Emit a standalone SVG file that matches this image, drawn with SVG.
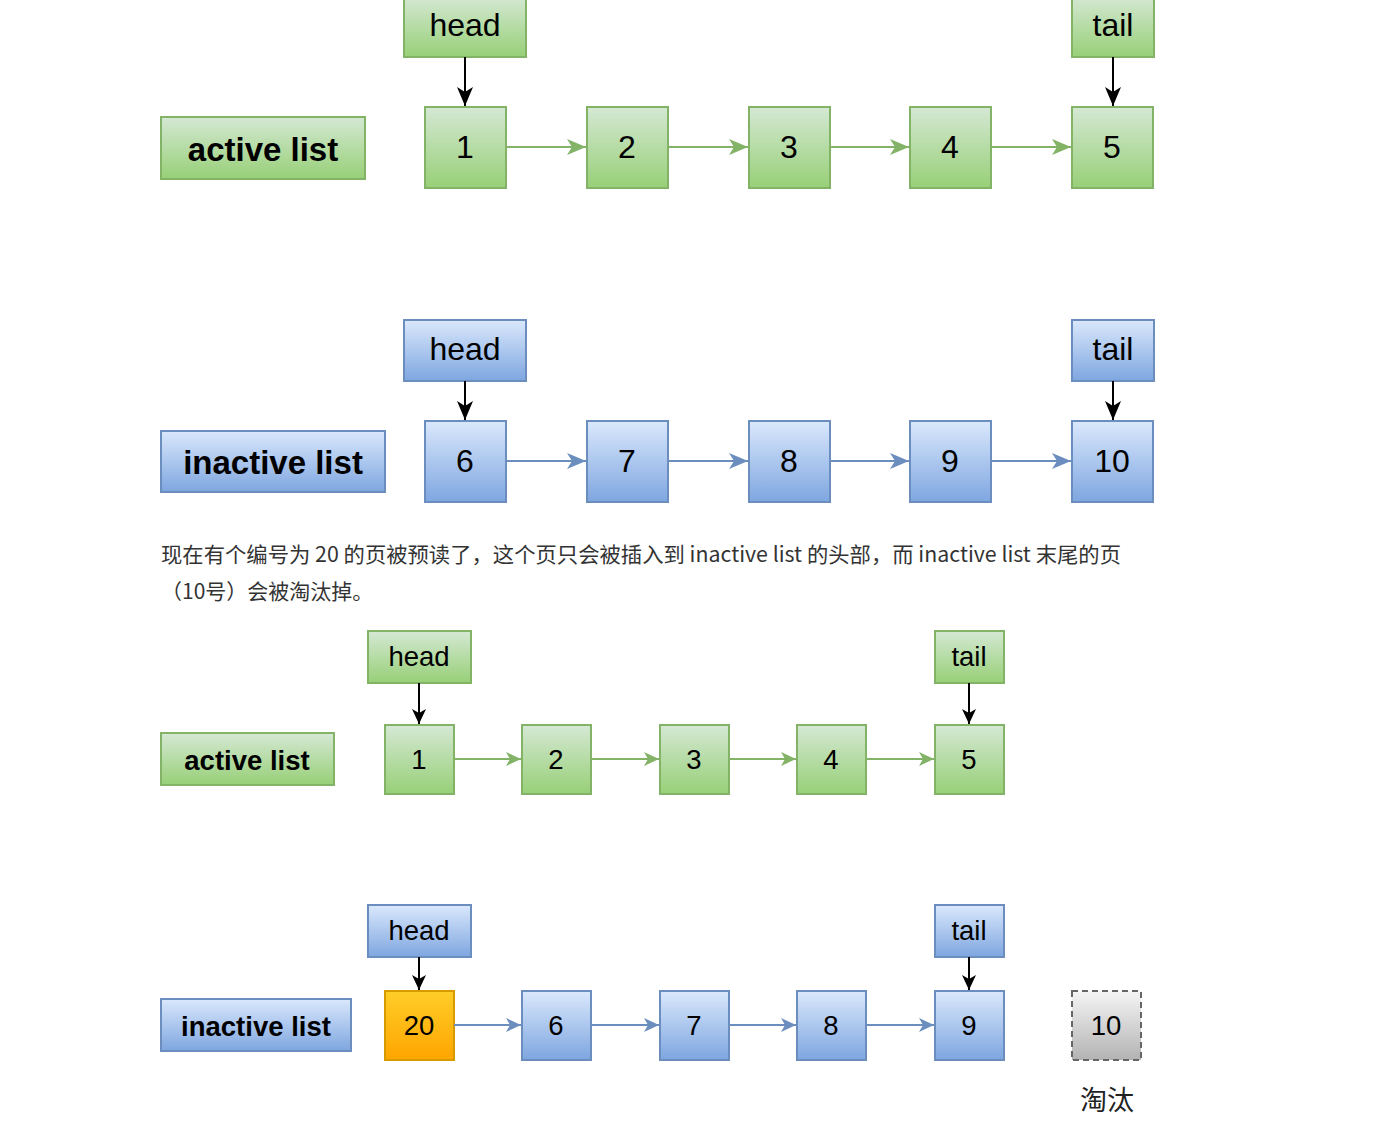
<svg xmlns="http://www.w3.org/2000/svg" width="1379" height="1137" viewBox="0 0 1379 1137">
<defs>
<linearGradient id="gG" x1="0" y1="0" x2="0" y2="1"><stop offset="0" stop-color="#d5e8d4"/><stop offset="1" stop-color="#97d077"/></linearGradient>
<linearGradient id="gB" x1="0" y1="0" x2="0" y2="1"><stop offset="0" stop-color="#dae8fc"/><stop offset="1" stop-color="#7ea6e0"/></linearGradient>
<linearGradient id="gO" x1="0" y1="0" x2="0" y2="1"><stop offset="0" stop-color="#ffcd28"/><stop offset="1" stop-color="#ffa500"/></linearGradient>
<linearGradient id="gS" x1="0" y1="0" x2="0" y2="1"><stop offset="0" stop-color="#f5f5f5"/><stop offset="1" stop-color="#b3b3b3"/></linearGradient>
<marker id="mK" markerUnits="userSpaceOnUse" markerWidth="22" markerHeight="20" refX="19" refY="8" orient="auto"><path d="M0,0 L19,8 L0,16 L5,8 z" fill="#000"/></marker>
<marker id="mG" markerUnits="userSpaceOnUse" markerWidth="22" markerHeight="20" refX="19" refY="8" orient="auto"><path d="M0,0 L19,8 L0,16 L5,8 z" fill="#82b366"/></marker>
<marker id="mB" markerUnits="userSpaceOnUse" markerWidth="22" markerHeight="20" refX="19" refY="8" orient="auto"><path d="M0,0 L19,8 L0,16 L5,8 z" fill="#6c8ebf"/></marker>
<marker id="mKs" markerUnits="userSpaceOnUse" markerWidth="18" markerHeight="16" refX="15" refY="7" orient="auto"><path d="M0,0 L15,7 L0,14 L4,7 z" fill="#000"/></marker>
<marker id="mGs" markerUnits="userSpaceOnUse" markerWidth="18" markerHeight="16" refX="15" refY="7" orient="auto"><path d="M0,0 L15,7 L0,14 L4,7 z" fill="#82b366"/></marker>
<marker id="mBs" markerUnits="userSpaceOnUse" markerWidth="18" markerHeight="16" refX="15" refY="7" orient="auto"><path d="M0,0 L15,7 L0,14 L4,7 z" fill="#6c8ebf"/></marker>
</defs>
<style>
.g{fill:url(#gG);stroke:#82b366;stroke-width:2}
.b{fill:url(#gB);stroke:#6c8ebf;stroke-width:2}
.o{fill:url(#gO);stroke:#d79b00;stroke-width:2}
.s{fill:url(#gS);stroke:#666;stroke-width:2;stroke-dasharray:6 4}
.t{font-family:"Liberation Sans",Arial,sans-serif;fill:#000;text-anchor:middle;dominant-baseline:central}
.L{font-size:32px}
.S{font-size:27.5px}
.bd{font-weight:bold}
.LB{font-size:33px}
.k{stroke:#000;stroke-width:2;fill:none}
.cg{stroke:#82b366;stroke-width:2;fill:none}
.cb{stroke:#6c8ebf;stroke-width:2;fill:none}
.p{font-family:"Noto Sans CJK SC","Noto Sans",sans-serif;font-size:21px;fill:#333}
</style>
<rect width="1379" height="1137" fill="#fff"/>

<!-- Diagram 1 -->
<g id="d1-head"><rect class="g" x="404" y="-4" width="122" height="61"/><text class="t L" x="465" y="25">head</text></g>
<g id="d1-tail"><rect class="g" x="1072" y="-4" width="82" height="61"/><text class="t L" x="1113" y="25">tail</text></g>
<g id="d1-label"><rect class="g" x="161" y="117" width="204" height="62"/><text class="t LB bd" x="263" y="149">active list</text></g>
<g id="d1-n1"><rect class="g" x="425" y="107" width="81" height="81"/><text class="t L" x="465" y="147">1</text></g>
<g id="d1-n2"><rect class="g" x="587" y="107" width="81" height="81"/><text class="t L" x="627" y="147">2</text></g>
<g id="d1-n3"><rect class="g" x="749" y="107" width="81" height="81"/><text class="t L" x="789" y="147">3</text></g>
<g id="d1-n4"><rect class="g" x="910" y="107" width="81" height="81"/><text class="t L" x="950" y="147">4</text></g>
<g id="d1-n5"><rect class="g" x="1072" y="107" width="81" height="81"/><text class="t L" x="1112" y="147">5</text></g>

<!-- Diagram 2 -->
<g id="d2-head"><rect class="b" x="404" y="320" width="122" height="61"/><text class="t L" x="465" y="349">head</text></g>
<g id="d2-tail"><rect class="b" x="1072" y="320" width="82" height="61"/><text class="t L" x="1113" y="349">tail</text></g>
<g id="d2-label"><rect class="b" x="161" y="431" width="224" height="61"/><text class="t LB bd" x="273" y="462">inactive list</text></g>
<g id="d2-n6"><rect class="b" x="425" y="421" width="81" height="81"/><text class="t L" x="465" y="461">6</text></g>
<g id="d2-n7"><rect class="b" x="587" y="421" width="81" height="81"/><text class="t L" x="627" y="461">7</text></g>
<g id="d2-n8"><rect class="b" x="749" y="421" width="81" height="81"/><text class="t L" x="789" y="461">8</text></g>
<g id="d2-n9"><rect class="b" x="910" y="421" width="81" height="81"/><text class="t L" x="950" y="461">9</text></g>
<g id="d2-n10"><rect class="b" x="1072" y="421" width="81" height="81"/><text class="t L" x="1112" y="461">10</text></g>

<!-- Paragraph -->
<g id="para">
<text class="p" x="161" y="562" textLength="960" lengthAdjust="spacingAndGlyphs">现在有个编号为 20 的页被预读了，这个页只会被插入到 inactive list 的头部，而 inactive list 末尾的页</text>
<text class="p" x="161" y="599">（10号）会被淘汰掉。</text>
</g>

<!-- Diagram 3 -->
<g id="d3-head"><rect class="g" x="368" y="631" width="103" height="52"/><text class="t S" x="419" y="656">head</text></g>
<g id="d3-tail"><rect class="g" x="935" y="631" width="69" height="52"/><text class="t S" x="969" y="656">tail</text></g>
<g id="d3-label"><rect class="g" x="161" y="733" width="173" height="52"/><text class="t S bd" x="247" y="760">active list</text></g>
<g id="d3-n1"><rect class="g" x="385" y="725" width="69" height="69"/><text class="t S" x="419" y="759">1</text></g>
<g id="d3-n2"><rect class="g" x="522" y="725" width="69" height="69"/><text class="t S" x="556" y="759">2</text></g>
<g id="d3-n3"><rect class="g" x="660" y="725" width="69" height="69"/><text class="t S" x="694" y="759">3</text></g>
<g id="d3-n4"><rect class="g" x="797" y="725" width="69" height="69"/><text class="t S" x="831" y="759">4</text></g>
<g id="d3-n5"><rect class="g" x="935" y="725" width="69" height="69"/><text class="t S" x="969" y="759">5</text></g>

<!-- Diagram 4 -->
<g id="d4-head"><rect class="b" x="368" y="905" width="103" height="52"/><text class="t S" x="419" y="930">head</text></g>
<g id="d4-tail"><rect class="b" x="935" y="905" width="69" height="52"/><text class="t S" x="969" y="930">tail</text></g>
<g id="d4-label"><rect class="b" x="161" y="999" width="190" height="52"/><text class="t S bd" x="256" y="1026">inactive list</text></g>
<g id="d4-n20"><rect class="o" x="385" y="991" width="69" height="69"/><text class="t S" x="419" y="1025">20</text></g>
<g id="d4-n6"><rect class="b" x="522" y="991" width="69" height="69"/><text class="t S" x="556" y="1025">6</text></g>
<g id="d4-n7"><rect class="b" x="660" y="991" width="69" height="69"/><text class="t S" x="694" y="1025">7</text></g>
<g id="d4-n8"><rect class="b" x="797" y="991" width="69" height="69"/><text class="t S" x="831" y="1025">8</text></g>
<g id="d4-n9"><rect class="b" x="935" y="991" width="69" height="69"/><text class="t S" x="969" y="1025">9</text></g>
<g id="d4-n10"><rect class="s" x="1072" y="991" width="69" height="69"/><text class="t S" x="1106" y="1025">10</text></g>
<g id="d4-evict"><text x="1107" y="1110" font-family="Noto Sans CJK SC, sans-serif" font-size="27" fill="#222" text-anchor="middle">淘汰</text></g>

<!-- Connectors -->
<g id="connectors">
<line class="k" x1="465" y1="57" x2="465" y2="106" marker-end="url(#mK)"/>
<line class="k" x1="1113" y1="57" x2="1113" y2="106" marker-end="url(#mK)"/>
<line class="cg" x1="506" y1="147" x2="586" y2="147" marker-end="url(#mG)"/>
<line class="cg" x1="668" y1="147" x2="748" y2="147" marker-end="url(#mG)"/>
<line class="cg" x1="830" y1="147" x2="909" y2="147" marker-end="url(#mG)"/>
<line class="cg" x1="991" y1="147" x2="1071" y2="147" marker-end="url(#mG)"/>

<line class="k" x1="465" y1="381" x2="465" y2="420" marker-end="url(#mK)"/>
<line class="k" x1="1113" y1="381" x2="1113" y2="420" marker-end="url(#mK)"/>
<line class="cb" x1="506" y1="461" x2="586" y2="461" marker-end="url(#mB)"/>
<line class="cb" x1="668" y1="461" x2="748" y2="461" marker-end="url(#mB)"/>
<line class="cb" x1="830" y1="461" x2="909" y2="461" marker-end="url(#mB)"/>
<line class="cb" x1="991" y1="461" x2="1071" y2="461" marker-end="url(#mB)"/>

<line class="k" x1="419" y1="683" x2="419" y2="724" marker-end="url(#mKs)"/>
<line class="k" x1="969" y1="683" x2="969" y2="724" marker-end="url(#mKs)"/>
<line class="cg" x1="454" y1="759" x2="521" y2="759" marker-end="url(#mGs)"/>
<line class="cg" x1="591" y1="759" x2="659" y2="759" marker-end="url(#mGs)"/>
<line class="cg" x1="729" y1="759" x2="796" y2="759" marker-end="url(#mGs)"/>
<line class="cg" x1="866" y1="759" x2="934" y2="759" marker-end="url(#mGs)"/>

<line class="k" x1="419" y1="957" x2="419" y2="990" marker-end="url(#mKs)"/>
<line class="k" x1="969" y1="957" x2="969" y2="990" marker-end="url(#mKs)"/>
<line class="cb" x1="454" y1="1025" x2="521" y2="1025" marker-end="url(#mBs)"/>
<line class="cb" x1="591" y1="1025" x2="659" y2="1025" marker-end="url(#mBs)"/>
<line class="cb" x1="729" y1="1025" x2="796" y2="1025" marker-end="url(#mBs)"/>
<line class="cb" x1="866" y1="1025" x2="934" y2="1025" marker-end="url(#mBs)"/>
</g>
</svg>
